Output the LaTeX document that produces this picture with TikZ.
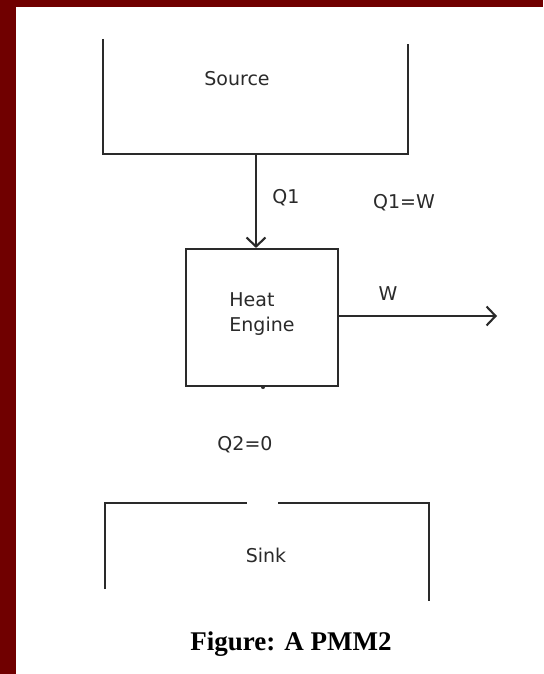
\documentclass[tikz,border=0pt]{standalone}
\usepackage{fontspec}
\setmainfont{DejaVu Sans}
\newfontfamily\capfont{Liberation Serif}
\usepackage{xcolor}
\usepackage{tikz}
\usetikzlibrary{arrows.meta, positioning}

\definecolor{frame}{HTML}{700000}
\definecolor{ink}{HTML}{2A2A2A}

\begin{document}
\begin{tikzpicture}[x=1pt, y=-1pt, >={Straight Barb[length=9pt, width=19pt]},
    line width=2.1pt, draw=ink,
    lbl/.style={inner sep=0pt, text=ink, font=\fontsize{19}{25}\selectfont}]

    % =================================================================
    % 1. KHUNG NỀN
    % =================================================================
    \useasboundingbox (0,0) rectangle (543,674);
    \fill[white] (0,0) rectangle (543,674);
    \fill[frame] (0,0) rectangle (16,674);
    \fill[frame] (0,0) rectangle (543,7);

    % =================================================================
    % 2. NGUỒN NÓNG, ĐỘNG CƠ, NGUỒN LẠNH
    % =================================================================
    % Nguồn nóng (hở phía trên)
    \node[minimum width=303pt, minimum height=113pt, inner sep=0pt] (source) at (255.5,96.5) {};
    \draw (source.north west) -- (source.south west) -- (source.south east) -- ([yshift=-5pt]source.north east);
    \node[lbl] (sourcelbl) at (237,79) {Source};

    % Động cơ nhiệt
    \node[draw, minimum width=152pt, minimum height=137pt, inner sep=0pt] (engine) at (262,317.5) {};
    \node[lbl, align=left] (enginelbl) at (262,314) {Heat\\Engine};

    % Nguồn lạnh (hở phía dưới)
    \node[minimum width=322pt, minimum height=90pt, inner sep=0pt] (sink) at (267,549) {};
    \draw ([yshift=6pt]sink.south west) -- (sink.north west) -- ([xshift=142pt]sink.north west);
    \draw ([xshift=-151pt]sink.north east) -- (sink.north east) -- ([yshift=-6pt]sink.south east);
    \node[lbl] (sinklbl) at (266,555) {Sink};

    % =================================================================
    % 3. DÒNG NHIỆT VÀ CÔNG
    % =================================================================
    \coordinate (qin) at (256,153);
    \coordinate (wout) at (497,316);
    \draw[->] (qin) -- (qin |- engine.north);
    \draw[->] (engine.east |- wout) -- (wout);
    \fill[ink] (engine.south) ++(1pt,0) circle (2pt);

    \node[lbl] (qone) at (286,198) {Q1};
    \node[lbl] (balance) at (404,203) {Q1=W};
    \node[lbl] (work) at (388,294) {W};
    \node[lbl] (qtwo) at (245,445) {Q2=0};

    % Chú thích hình
    \node[inner sep=0pt, anchor=base, font=\capfont\bfseries\fontsize{27}{30}\selectfont] (caption) at (291,650) {Figure: A PMM2};

\end{tikzpicture}
\end{document}
